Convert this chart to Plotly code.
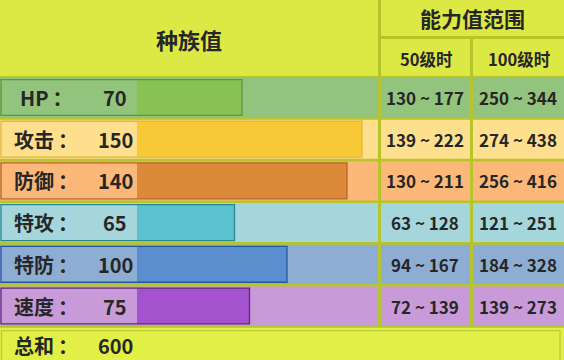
import plotly.graph_objects as go

# ---- data ----
stat_labels = ["HP：", "攻击：", "防御：", "特攻：", "特防：", "速度："]
stat_values = [70, 150, 140, 65, 100, 75]
lv50_ranges = ["130 ~ 177", "139 ~ 222", "130 ~ 211", "63 ~ 128", "94 ~ 167", "72 ~ 139"]
lv100_ranges = ["250 ~ 344", "274 ~ 438", "256 ~ 416", "121 ~ 251", "184 ~ 328", "139 ~ 273"]
total_label = "总和："
total_value = 600
header_left = "种族值"
header_right = "能力值范围"
sub_headers = ["50级时", "100级时"]

# ---- styles ----
row_bg = ["#93c47d", "#fddf8d", "#fbb878", "#a4d6dc", "#8eadd3", "#c89bd8"]
bar_fill = ["#88c252", "#f8c936", "#dc8939", "#5bc2cf", "#5a8ecf", "#a453cf"]
bar_edge = ["#5a973c", "#e3b73c", "#b9652c", "#2a8796", "#2256a6", "#5c2b7c"]
grid_col = "#b6c52a"
head_col = "#dce944"
total_bg = "#e1ef47"
total_edge = "#bcc739"
text_col = "#262626"
FONT = "Noto Sans CJK SC"

W, H = 564, 360
PX_PER_UNIT = 1.5
X0_PX = 137          # pixel where value 0 sits
ROW0_PX = 97.5       # centre of first row
ROW_PITCH = 41.7
LABEL_LEFT = (1 - X0_PX) / PX_PER_UNIT

n = len(stat_values)
rows = list(range(n))


def fx(p):
    return p / W


def fy(p):
    return 1 - p / H


def show_label(s):
    # put the full-width colon a little apart, as in the original rendering
    return s.replace("：", "\u2009：")


fig = go.Figure()

fig.add_trace(go.Bar(
    y=rows, x=[v - LABEL_LEFT for v in stat_values], base=LABEL_LEFT,
    orientation="h", width=0.86,
    marker=dict(color=row_bg, line=dict(width=0)), hoverinfo="skip", showlegend=False))
fig.add_trace(go.Bar(
    y=rows, x=stat_values, base=0, orientation="h", width=0.86,
    marker=dict(color=bar_fill, line=dict(width=0)), showlegend=False))
fig.add_trace(go.Bar(
    y=rows, x=[v - LABEL_LEFT for v in stat_values], base=LABEL_LEFT,
    orientation="h", width=0.86,
    marker=dict(color="rgba(0,0,0,0)", line=dict(width=1.3, color=bar_edge)),
    hoverinfo="skip", showlegend=False))

shapes = []


def rect(x0, y0, x1, y1, fill, line=None, lw=0):
    shapes.append(dict(type="rect", xref="paper", yref="paper",
                       x0=fx(x0), x1=fx(x1), y0=fy(y0), y1=fy(y1),
                       fillcolor=fill, line=dict(width=lw, color=line or fill),
                       layer="below"))


# header
rect(0, 0, 378, 76, head_col)
rect(381, 0, W, 36, head_col)
rect(381, 39, 470, 76, head_col)
rect(473, 39, W, 76, head_col)

# rows
for i in rows:
    c = ROW0_PX + ROW_PITCH * i
    t, b = c - 19.5, c + 19.5
    rect(0, t, 378, b, row_bg[i])
    rect(381, t, 470, b, row_bg[i])
    rect(473, t, W, b, row_bg[i])

# total row
tc = ROW0_PX + ROW_PITCH * n
rect(0, tc - 20, W, H + 5, total_bg)
rect(1.5, tc - 17, 560, H + 5, total_bg, total_edge, 1.2)

ann = []


def txt(x_px, y, s, size, yref="y"):
    ann.append(dict(xref="paper", yref=yref, x=fx(x_px), y=y, text=f"<b>{s}</b>",
                    showarrow=False, xanchor="center", yanchor="middle",
                    font=dict(family=FONT, size=size, color=text_col)))


txt(189, fy(39), header_left, 22, "paper")
txt(472, fy(18), header_right, 21, "paper")
txt(426, fy(59), sub_headers[0], 16.5, "paper")
txt(519, fy(59), sub_headers[1], 16.5, "paper")

for i in rows:
    txt(46, i, show_label(stat_labels[i]), 20)
    txt(115, i, str(stat_values[i]), 20)
    txt(425, i, lv50_ranges[i], 17)
    txt(518, i, lv100_ranges[i], 17)

ty = fy(345)
txt(46, ty, show_label(total_label), 20, "paper")
txt(115, ty, str(total_value), 20, "paper")

y_top = (0 - ROW0_PX) / ROW_PITCH
y_bot = (H - ROW0_PX) / ROW_PITCH

fig.update_layout(
    width=W, height=H, margin=dict(l=0, r=0, t=0, b=0),
    paper_bgcolor=grid_col, plot_bgcolor="rgba(0,0,0,0)",
    barmode="overlay", shapes=shapes, annotations=ann,
    xaxis=dict(range=[-X0_PX / PX_PER_UNIT, (W - X0_PX) / PX_PER_UNIT],
               visible=False, fixedrange=True),
    yaxis=dict(range=[y_bot, y_top], visible=False, fixedrange=True),
    showlegend=False,
)

fig.write_html("out.html", config=dict(displayModeBar=False))
